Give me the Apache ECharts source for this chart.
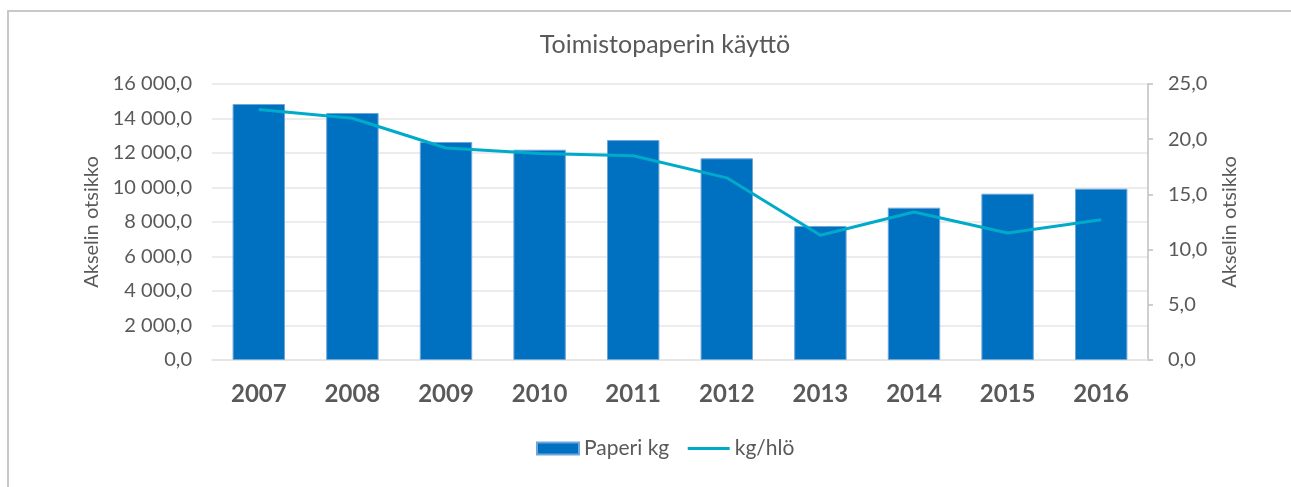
<!DOCTYPE html>
<html>
<head>
<meta charset="utf-8">
<script src="https://cdn.jsdelivr.net/npm/echarts@6/dist/echarts.min.js"></script>
<style>
  html, body { margin: 0; padding: 0; background: #fff; }
  #chart { width: 1291px; height: 487px; }
  #frame {
    position: absolute; left: 7px; top: 10px; right: 0; bottom: 0;
    border-top: 2px solid #C8C8C8; border-left: 2px solid #C8C8C8;
    pointer-events: none;
  }
</style>
</head>
<body>
<div id="chart"></div>
<div id="frame"></div>
<script>
// Toimistopaperin käyttö
const years = ['2007', '2008', '2009', '2010', '2011', '2012', '2013', '2014', '2015', '2016'];
const paperKg = [14840, 14320, 12640, 12190, 12750, 11690, 7770, 8830, 9640, 9930];
const kgPerPerson = [22.7, 21.9, 19.2, 18.7, 18.5, 16.5, 11.3, 13.4, 11.5, 12.7];

const textColor = '#595959';
const font = 'Lato, "Open Sans", sans-serif';

// 16 000,0 style
const fmtLeft = v => {
  const parts = v.toFixed(1).split('.');
  return parts[0].replace(/\B(?=(\d{3})+(?!\d))/g, ' ') + ',' + parts[1];
};
const fmtRight = v => v.toFixed(1).replace('.', ',');

const chart = echarts.init(document.getElementById('chart'));

chart.setOption({
  animation: false,
  textStyle: { fontFamily: font },
  title: {
    text: 'Toimistopaperin käyttö',
    left: 660,
    top: 27,
    textAlign: 'center',
    textStyle: { color: textColor, fontSize: 25, fontWeight: 'normal', fontFamily: font },
  },
  legend: {
    left: 531,
    top: 433,
    itemWidth: 42,
    itemHeight: 12,
    itemGap: 17,
    textStyle: { color: textColor, fontSize: 21, fontFamily: font },
    data: [
      { name: 'Paperi kg', icon: 'rect' },
      { name: 'kg/hlö', itemStyle: { opacity: 0 }, lineStyle: { width: 3, color: '#00ABCA' } },
    ],
  },
  grid: { left: 212, right: 143, top: 84, bottom: 127 },
  xAxis: {
    type: 'category',
    data: years,
    axisLine: { show: true, lineStyle: { color: '#E3E3E3', width: 1.5 } },
    axisTick: { show: false },
    axisLabel: {
      color: textColor, fontSize: 24, fontWeight: 'bold', margin: 22, fontFamily: font,
    },
  },
  yAxis: [
    {
      type: 'value',
      min: 0, max: 16000, interval: 2000,
      name: 'Akselin otsikko',
      nameLocation: 'middle',
      nameGap: 108,
      nameTextStyle: { color: textColor, fontSize: 20, fontFamily: font },
      axisLine: { show: false },
      axisTick: { show: false },
      splitLine: { lineStyle: { color: '#E6E6E6', width: 1.5 } },
      axisLabel: { color: textColor, fontSize: 20, margin: 20, formatter: fmtLeft, fontFamily: font },
    },
    {
      type: 'value',
      min: 0, max: 25, interval: 5,
      name: 'Akselin otsikko',
      nameLocation: 'middle',
      nameGap: 72,
      nameTextStyle: { color: textColor, fontSize: 20, fontFamily: font },
      axisLine: { show: true, lineStyle: { color: '#BFBFBF', width: 1.5 } },
      axisTick: { show: true, length: 5, lineStyle: { color: '#BFBFBF', width: 1.5 } },
      splitLine: { show: false },
      axisLabel: { color: textColor, fontSize: 20, margin: 20, formatter: fmtRight, fontFamily: font },
    },
  ],
  series: [
    {
      name: 'Paperi kg',
      type: 'bar',
      yAxisIndex: 0,
      data: paperKg,
      barCategoryGap: '44%',
      itemStyle: { color: '#0070C0', borderColor: '#6FA6DA', borderWidth: 1 },
    },
    {
      name: 'kg/hlö',
      type: 'line',
      yAxisIndex: 1,
      data: kgPerPerson,
      symbol: 'none',
      lineStyle: { color: '#00ABCA', width: 3 },
      itemStyle: { color: '#00ABCA' },
    },
  ],
});

window.addEventListener('resize', () => chart.resize());
</script>
</body>
</html>
